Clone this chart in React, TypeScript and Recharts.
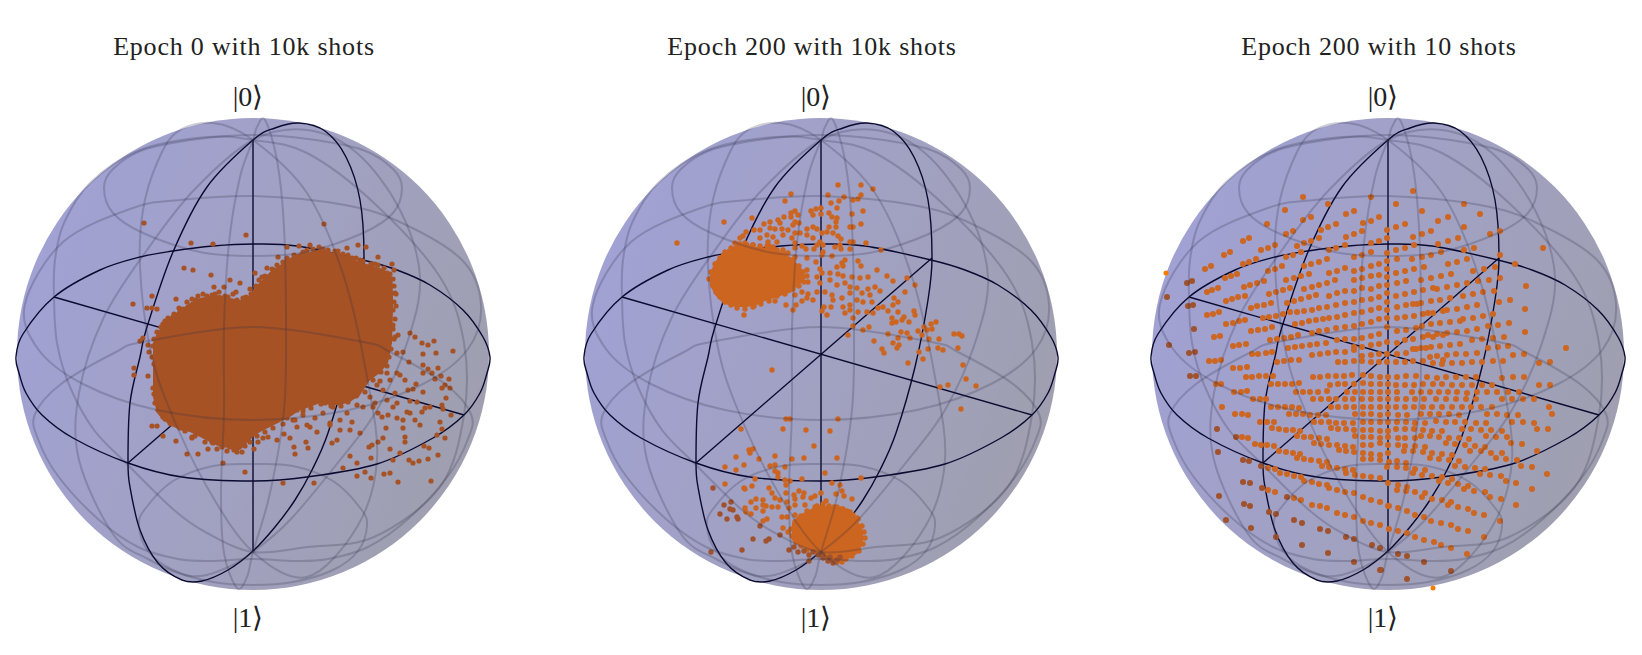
import { Area, ComposedChart, Label, Line, ReferenceDot, Scatter, XAxis, YAxis } from "recharts";

type Pair = [number, number];
type Band = [number, number, number];

// everything below: projected sphere coordinates, centre at 0,0, radius 236
const titles = ["Epoch 0 with 10k shots", "Epoch 200 with 10k shots", "Epoch 200 with 10 shots"];

const equator: Pair[] = [[0,110],[-40,108],[-80,103],[-113,97],[-153,84],[-199,57],[-230,20],[-237,-3],[-234,-19],[-227,-39],[-211,-61],[-180,-84],[-125,-109],[-71,-123],[0,-127],[54,-123],[124,-110],[180,-84],[211,-61],[227,-39],[234,-19],[237,-3],[230,17],[210,44],[177,69],[144,84],[110,94],[44,108],[0,110]];
const darkMeridian: Pair[] = [[0,214],[22,226],[46,231],[72,223],[93,197],[107,154],[111,96],[107,54],[94,-13],[75,-79],[59,-116],[42,-146],[22,-173],[0,-197],[-25,-216],[-51,-227],[-71,-226],[-95,-209],[-113,-176],[-123,-133],[-125,-109],[-123,-49],[-113,-3],[-106,27],[-80,102],[-46,167],[0,214]];
const axisX: Pair[] = [[-199,57],[211,-61]];
const axisY: Pair[] = [[-125,-109],[111,96]];
const axisZ: Pair[] = [[0,214],[0,-197]];

const ringA: Pair[] = [[0,98],[53,102],[110,121],[140,141],[149,166],[140,185],[110,204],[55,215],[0,219],[-55,215],[-110,204],[-140,185],[-149,166],[-140,141],[-110,121],[-53,102],[0,98]];
const ringB: Pair[] = [[0,158],[92,149],[149,131],[209,94],[228,50],[215,5],[170,-30],[96,-56],[0,-66],[-96,-56],[-170,-30],[-215,5],[-228,50],[-190,112],[-120,146],[-73,154],[0,158]];
const ringC: Pair[] = [[0,27],[110,12],[137,2],[192,-30],[218,-60],[215,-85],[195,-122],[155,-165],[115,-193],[75,-205],[42,-207],[0,-205],[-42,-207],[-75,-205],[-115,-193],[-155,-165],[-195,-122],[-215,-85],[-218,-60],[-192,-30],[-137,2],[-110,12],[0,27]];
const ringD: Pair[] = [[0,-110],[40,-112],[80,-127],[108,-155],[114,-172],[105,-197],[80,-216],[40,-228],[0,-231],[-40,-228],[-80,-216],[-105,-197],[-114,-172],[-108,-155],[-80,-127],[-40,-112],[0,-110]];
const meridianA: Pair[] = [[0,214],[-46,217],[-113,204],[-163,171],[-189,131],[-198,94],[-199,57],[-196,11],[-183,-33],[-159,-76],[-127,-109],[-79,-156],[-46,-179],[0,-198],[54,-193],[121,-183],[187,-133],[211,-61],[211,11],[187,77],[121,151],[54,201],[0,214]];
const meridianB: Pair[] = [[0,214],[-40,231],[-76,222],[-96,191],[-110,144],[-113,87],[-104,11],[-86,-49],[-46,-133],[0,-198],[54,-223],[104,-173],[124,-106],[114,-23],[91,77],[54,161],[0,214]];
const meridianC: Pair[] = [[0,214],[-13,177],[-24,111],[-29,27],[-29,-56],[-32,-139],[-29,-199],[-16,-234],[-6,-223],[0,-198],[17,-139],[31,-56],[33,27],[31,127],[24,194],[12,234],[4,227],[0,214]];
const meridianD: Pair[] = [[0,214],[-59,164],[-106,104],[-149,37],[-174,-39],[-174,-106],[-140,-180],[-105,-205],[-63,-222],[-29,-215],[0,-198],[37,-166],[87,-106],[124,-56],[154,11],[167,77],[147,144],[104,201],[54,224],[0,214]];
const greyWires = [ringA, ringB, ringC, ringD, meridianA, meridianB, meridianC, meridianD];

const blob0: Band[] = [[-100,-43,11],[-96,-59,21],[-90,-66,29],[-83,-71,37],[-73,-76,44],[-63,-78,51],[-53,-83,56],[-43,-88,58],[-33,-93,59],[-23,-94,56],[-13,-96,54],[-6,-89,56],[0,-83,64],[7,-78,72],[17,-73,82],[27,-68,89],[37,-63,96],[47,-56,101],[57,-53,102],[67,-49,105],[77,-51,102],[87,-51,101],[97,-48,96],[107,-41,92],[117,-26,89],[127,-19,86],[135,-9,82],[139,11,77],[140,44,61]];
const blob200a: Band[] = [[-111,69,81],[-106,59,92],[-99,52,101],[-93,49,105],[-84,47,109],[-74,47,109],[-64,49,107],[-54,54,106],[-46,56,106],[-38,59,101],[-29,62,96],[-23,69,89],[-18,72,84]];
const blob200b: Band[] = [[-29,-186,-169],[-24,-190,-163],[-16,-194,-158],[-8,-198,-154],[0,-203,-151],[6,-207,-152],[16,-211,-154],[22,-207,-156],[29,-204,-159],[36,-200,-165],[41,-192,-175],[42,-185,-181]];

const edge0: Pair[] = [[-100,8],[-101,-3],[-99,15],[-97,-30],[-99,-40],[-96,22],[-93,-55],[-92,27],[-88,33],[-88,-65],[-85,36],[-82,-70],[-79,40],[-74,46],[-70,45],[-68,-77],[-66,52],[-60,50],[-58,-82],[-57,54],[-50,60],[-48,-88],[-46,58],[-38,60],[-36,-95],[-28,58],[-26,-97],[-20,60],[-19,-96],[-10,56],[-11,-98],[-2,60],[-3,-88],[3,68],[4,-82],[6,74],[12,78],[12,-78],[19,85],[20,-74],[22,84],[30,92],[30,-70],[33,92],[41,99],[42,-66],[44,97],[54,104],[60,105],[66,107],[75,104],[82,103],[90,100],[95,99],[103,96],[110,93],[118,90],[122,90],[131,86],[137,80],[140,75],[141,68],[143,60],[141,52],[143,48],[142,35],[140,25],[141,15],[138,5],[136,-3],[134,-12],[128,-18],[120,-26],[112,-38],[103,-42],[95,-48],[88,-52],[78,-52],[68,-50],[58,-54],[50,-57]];
const points0: Pair[] = [[-109,131],[-62,111],[-40,110],[-7,119],[71,130],[34,107],[46,108],[57,109],[25,97],[85,103],[94,106],[105,109],[113,107],[125,97],[139,90],[141,84],[107,94],[99,96],[-69,86],[-60,84],[-42,79],[-23,74],[-13,71],[2,81],[-39,67],[-29,67],[-34,62],[-77,55],[-101,58],[-120,50],[-106,46],[-101,46],[-96,45],[-61,55],[-17,62],[-3,65],[-7,57],[-80,37],[-73,43],[-90,30],[-110,16],[-113,13],[-105,9],[-104,2],[-119,-14],[-119,-21],[-105,-22],[-99,-10],[-96,-16],[-97,-26],[-100,-34],[-98,-49],[-95,-56],[-101,-72],[-96,-72],[-90,-82],[-77,-87],[-66,-100],[-55,-100],[-45,-95],[-61,-84],[-30,-109],[-8,-118],[1,-95],[-16,-98],[-41,-88],[5,-88],[10,-84],[15,-83],[24,-86],[31,-80],[37,-84],[41,-93],[42,-100],[55,-94],[53,-88],[57,-73],[64,-78],[79,-89],[84,-86],[77,-71],[87,-76],[97,-102],[90,-114],[104,-109],[118,-104],[104,-122],[112,-118],[118,-124],[131,-120],[137,-119],[145,-128],[178,-127],[30,-129],[61,-129],[116,-93],[119,-91],[107,-79],[97,-76],[125,-88],[130,-84],[133,-74],[137,-95],[147,-99],[140,-106],[152,-83],[152,-88],[150,-74],[156,-106],[160,-109],[166,-107],[175,-105],[185,-101],[176,-94],[171,-92],[192,-84],[184,-81],[189,-75],[157,21],[162,17],[169,11],[175,9],[181,13],[200,3],[183,1],[170,0],[156,-8],[150,2],[144,1],[142,17],[145,19],[140,29],[147,-21],[152,-26],[144,-19],[170,-11],[175,-15],[185,-14],[170,-19],[179,-19],[188,-22],[182,-25],[196,-25],[192,-31],[189,-34],[197,-34],[170,-38],[163,-30],[155,-36],[160,-35],[193,-44],[189,-51],[198,-61],[190,-55],[177,-53],[172,-54],[169,-58],[164,-48],[157,-47],[154,-58],[157,-59],[144,-49],[140,-53],[135,-61],[144,-64],[150,-66],[162,-66],[167,-71],[187,-68],[129,-63],[125,-59],[44,-56],[50,-54],[60,-46],[72,-49],[80,-53],[85,-46],[90,-43],[104,-41],[107,-31],[124,-31],[127,-27],[134,-19],[137,-26],[117,-43],[120,-53],[110,-53],[104,-51],[94,-59],[99,-68],[87,-66],[77,-69],[70,-59],[62,-64],[50,-61],[40,-66],[34,-64],[44,-73],[54,-71],[122,-49],[134,-46],[142,-39],[130,-36],[9,77],[14,86],[24,89],[34,96],[50,102],[70,105],[125,89],[134,81],[137,71],[142,61],[140,44],[-55,58],[-41,59],[-25,57],[-16,54],[-65,47],[-40,-89],[-31,-93],[-23,-93],[-16,-94],[-8,-92],[-83,-69],[-73,-74],[-61,-83],[-90,-63]];

const edge200: Pair[] = [[-112,75],[-110,82],[-108,68],[-106,90],[-105,62],[-101,96],[-101,57],[-96,102],[-96,52],[-90,106],[-90,49],[-84,110],[-84,46],[-76,111],[-76,45],[-68,109],[-68,47],[-60,106],[-60,50],[-52,108],[-52,53],[-44,104],[-44,58],[-36,100],[-36,60],[-28,94],[-28,65],[-22,88],[-22,68],[-18,82],[-17,72],[-14,78],[-86,111],[-81,110],[-74,109],[-68,109],[-61,108],[-54,108],[-48,107],[-30,-175],[-29,-182],[-26,-168],[-25,-188],[-20,-162],[-20,-192],[-14,-157],[-14,-196],[-6,-153],[-4,-152],[2,-150],[8,-152],[13,-153],[20,-155],[26,-157],[32,-161],[37,-165],[41,-172],[43,-178],[44,-184],[42,-190],[38,-197],[31,-202],[25,-205],[21,-208]];
const points200: Pair[] = [[17,169],[40,169],[52,165],[7,159],[23,157],[18,153],[32,154],[37,155],[40,159],[10,151],[-30,160],[-36,153],[16,146],[42,143],[31,140],[-5,145],[0,146],[-10,143],[8,141],[0,140],[-8,139],[11,137],[16,136],[15,132],[-26,143],[-30,141],[-23,139],[-37,137],[-30,137],[-43,134],[-51,132],[-57,130],[-41,131],[-26,132],[-28,129],[-22,131],[-69,136],[-97,132],[-144,111],[40,130],[29,127],[32,127],[8,127],[15,127],[6,122],[12,121],[17,118],[20,115],[-8,127],[-4,125],[-14,125],[1,121],[-14,119],[-8,116],[-21,121],[-26,121],[-33,124],[-39,125],[-46,125],[-51,126],[-61,124],[-67,124],[-75,122],[-78,118],[-81,116],[-54,119],[-48,117],[-38,119],[-29,116],[-61,116],[-53,112],[-44,112],[-26,111],[-19,108],[-4,109],[2,109],[-1,112],[14,107],[19,109],[29,112],[32,112],[45,111],[60,104],[20,105],[29,105],[2,102],[1,99],[11,98],[-7,105],[-15,105],[-26,106],[-38,104],[-33,101],[-39,97],[-26,97],[-14,96],[-5,92],[24,94],[21,91],[16,87],[22,88],[37,93],[40,88],[56,84],[66,78],[72,73],[86,76],[94,69],[84,62],[39,76],[47,77],[31,77],[22,78],[17,80],[9,81],[-1,85],[1,81],[-14,84],[-4,77],[-18,77],[-13,72],[-1,71],[9,74],[16,69],[24,71],[29,67],[36,66],[54,67],[59,63],[47,65],[41,61],[49,59],[29,61],[21,56],[11,59],[4,62],[12,54],[-4,62],[-13,60],[-19,62],[-14,56],[-19,53],[-8,54],[-26,59],[-25,49],[-35,49],[-46,53],[-67,48],[-77,39],[-28,44],[22,47],[29,49],[36,54],[42,52],[51,52],[29,44],[32,36],[24,41],[37,42],[46,42],[52,41],[57,46],[62,47],[67,43],[73,56],[72,49],[77,52],[77,42],[71,36],[71,31],[75,32],[81,34],[83,37],[88,32],[93,43],[94,39],[10,47],[3,47],[1,43],[6,39],[32,28],[27,19],[42,24],[48,27],[53,13],[67,20],[80,22],[77,16],[86,21],[89,16],[72,11],[78,9],[76,6],[61,5],[63,1],[97,23],[103,27],[110,30],[115,32],[101,19],[106,24],[111,25],[108,15],[118,15],[133,20],[138,20],[141,18],[137,6],[122,4],[117,6],[98,2],[107,5],[102,-5],[87,-9],[142,-11],[145,-25],[155,-32],[127,-31],[119,-33],[140,-55],[-49,-16],
[-35,-65],[-31,-65],[17,-65],[-38,-75],[-15,-76],[9,-77],[-80,-75],[-7,-92],[-72,-96],[-68,-95],[-71,-99],[-85,-103],[-62,-105],[-46,-102],[-29,-105],[-17,-104],[16,-104],[-96,-113],[-85,-116],[-77,-111],[-51,-112],[-46,-111],[-36,-113],[-46,-117],[-43,-119],[-43,-123],[4,-119],[-66,-125],[-36,-126],[-31,-127],[-19,-125],[40,-124],[-96,-130],[11,-129],[19,-131],[-35,-131],[-69,-132],[-77,-134],[-76,-135],[-52,-134],[-49,-139],[-35,-139],[-22,-137],[-17,-139],[-27,-141],[-18,-143],[-10,-144],[-6,-142],[0,-139],[15,-140],[21,-137],[23,-142],[31,-145],[5,-147],[-46,-144],[-41,-146],[-34,-148],[-65,-145],[-58,-146],[-70,-148],[-26,-145],[-58,-151],[-55,-152],[-65,-154],[-76,-154],[-75,-158],[-70,-160],[-58,-157],[-49,-153],[-43,-153],[-32,-154],[-26,-151],[-16,-151],[16,-153],[22,-155],[29,-158],[36,-164],[-39,-163],[-34,-163],[-26,-161],[-54,-165],[-58,-167],[-38,-174],[-33,-178],[-27,-183]];
const shaded200: Pair[] = [[-108,-134],[-90,-148],[-97,-151],[-91,-155],[-88,-156],[-101,-160],[-94,-165],[-84,-163],[-83,-165],[-61,-172],[-68,-185],[-52,-185],[-55,-187],[-79,-196],[-110,-198],[-32,-196],[-27,-193],[-23,-198],[-17,-197],[-12,-201],[-12,-207],[-41,-181],[-8,-198],[-3,-201],[2,-204],[7,-207],[12,-209],[16,-206],[9,-203],[2,-201],[19,-203]];

const points10: Pair[] = [[-85,157],[-60,150],[-17,157],[-103,144],[-42,140],[-34,143],[-121,130],[-85,134],[-77,137],[-25,131],[-17,133],[-9,137],[-67,124],[-60,127],[-52,130],[-102,120],[-95,123],[-42,117],[-34,120],[-26,123],[-1,124],[-145,113],[-139,116],[-77,113],[-69,116],[-1,116],[-91,108],[-84,111],[-113,109],[-120,106],[-127,104],[-17,111],[-9,113],[-43,109],[-52,106],[-59,104],[-164,99],[-158,102],[-87,102],[-95,99],[-102,97],[-17,102],[-26,99],[-34,97],[-1,101],[-132,95],[-139,92],[-145,90],[-61,95],[-69,92],[-77,90],[-84,88],[-183,85],[-177,88],[-106,88],[-113,85],[-120,83],[-1,93],[-9,90],[-17,88],[-26,85],[-34,83],[-43,86],[-51,83],[-59,81],[-151,80],[-157,78],[-163,76],[-79,80],[-87,78],[-94,76],[-102,74],[-1,85],[-9,79],[-17,78],[-26,76],[-34,74],[-53,74],[-61,71],[-69,69],[-76,67],[-84,65],[-124,73],[-131,71],[-138,69],[-144,67],[-170,66],[-176,64],[-181,62],[-98,66],[-105,64],[-112,62],[-119,60],[-1,77],[-1,69],[-9,68],[-17,65],[-26,66],[-34,63],[-43,63],[-51,61],[-59,58],[-143,58],[-150,57],[-156,55],[-162,53],[-72,59],[-79,57],[-87,55],[-94,53],[-101,51],[-1,61],[-9,57],[-17,55],[-26,54],[-34,52],[-43,51],[-52,49],[-61,47],[-69,46],[-76,44],[-84,43],[-91,42],[-98,42],[-105,40],[-112,38],[-119,37],[-125,36],[-117,51],[-124,49],[-131,48],[-137,46],[-169,42],[-175,40],[-181,39],[-1,52],[-1,44],[-9,46],[-17,44],[-26,42],[-34,41],[-43,39],[-51,37],[-59,36],[-65,35],[-72,34],[-79,33],[-86,31],[-93,30],[-143,34],[-149,33],[-155,31],[-162,30],[-116,27],[-123,25],[-130,24],[-137,23],[-1,36],[-9,35],[-17,32],[-26,30],[-34,28],[-43,27],[-52,26],[-61,24],[-69,23],[-76,21],[-168,18],[-174,17],[-90,19],[-97,17],[-104,16],[-111,15],[-118,14],[-1,27],[-9,20],[-17,18],[-26,16],[-34,15],[-43,15],[-51,14],[-142,10],[-149,9],[-155,8],[-62,11],[-71,10],[-78,9],[-86,8],[-93,7],[-100,6],[-1,12],[-9,10],[-17,9],[-26,7],[-34,7],[-43,2],[-52,2],[-60,1],[-68,0],[-76,-1],[-116,2],[-122,1],[-130,0],[-136,0],[-1,0],[-9,0],[-17,-1],[-26,-2],[-34,4],[-167,-6],[-173,-7],[-179,-7],[-89,-6],[-97,-6],[-104,-7],[-111,-8],[-1,-8],[-9,-8],[-17,-8],[-26,-7],[-34,-7],[-43,-8],[-50,-8],[-141,-13],[-148,-14],[-155,-14],
[25,163],[8,150],[76,150],[34,143],[92,140],[60,137],[50,133],[17,130],[8,127],[76,127],[43,123],[34,120],[25,117],[102,120],[112,123],[70,116],[60,113],[50,110],[26,109],[17,106],[8,104],[155,106],[86,106],[76,104],[53,102],[43,99],[34,97],[24,95],[9,95],[112,99],[79,95],[69,92],[60,90],[127,90],[107,87],[96,85],[85,83],[63,80],[53,78],[43,76],[33,74],[36,87],[26,85],[17,83],[8,81],[112,76],[101,74],[90,73],[79,71],[69,69],[59,67],[49,65],[45,66],[35,64],[26,62],[18,73],[9,71],[17,60],[8,58],[138,68],[106,63],[95,62],[85,60],[75,58],[62,56],[52,54],[43,53],[33,51],[29,50],[25,50],[18,49],[9,47],[122,54],[111,52],[89,49],[79,47],[69,45],[59,44],[55,43],[45,41],[40,41],[35,40],[26,38],[17,37],[9,36],[137,45],[105,40],[95,38],[85,36],[75,35],[72,33],[62,32],[52,31],[43,30],[34,28],[28,26],[18,24],[9,23],[121,31],[110,29],[100,28],[89,25],[79,23],[69,22],[59,21],[55,19],[49,20],[45,17],[40,19],[35,17],[25,15],[17,14],[9,11],[137,22],[116,17],[105,16],[94,15],[84,14],[72,10],[62,9],[52,8],[43,7],[38,6],[33,6],[28,5],[25,5],[18,1],[9,0],[178,6],[110,7],[100,6],[89,1],[78,0],[68,0],[59,-1],[49,-2],[42,-3],[136,0],[125,-1],[120,8],[115,-7],[105,-7],[94,-8],[84,-8],[74,-9],[64,-9],[55,-6],[54,-10],[45,-9],[35,-7],[25,-7],[17,-8],[8,-8],[151,-9],[162,-8],
[-172,-30],[-167,-30],[-154,-38],[-147,-38],[-141,-37],[-142,-23],[-136,-23],[-129,-22],[-122,-22],[-115,-22],[-117,-30],[-110,-30],[-103,-30],[-96,-30],[-89,-29],[-75,-23],[-68,-23],[-60,-22],[-52,-22],[-44,-22],[-36,-21],[-25,-21],[-17,-22],[-8,-23],[0,-23],[-58,-31],[-50,-30],[-43,-30],[-34,-30],[-25,-29],[-17,-30],[-8,-30],[0,-30],[-92,-38],[-85,-38],[-78,-38],[-70,-38],[-61,-37],[-41,-38],[-33,-38],[-25,-38],[-17,-38],[-8,-38],[0,-38],[-135,-45],[-128,-45],[-122,-45],[-75,-45],[-67,-45],[-59,-45],[-52,-45],[-43,-45],[-35,-45],[-26,-45],[-17,-45],[-8,-45],[0,-45],[-166,-53],[-117,-53],[-110,-53],[-103,-53],[-96,-53],[-89,-54],[-57,-53],[-50,-53],[-42,-53],[-34,-53],[-25,-53],[-17,-53],[-8,-53],[0,-53],[-153,-60],[-146,-60],[-140,-61],[-99,-60],[-92,-60],[-85,-60],[-78,-61],[-70,-61],[-62,-61],[-33,-60],[-25,-60],[-17,-60],[-8,-61],[0,-60],[-128,-68],[-121,-68],[-114,-68],[-74,-68],[-67,-68],[-59,-68],[-52,-69],[-44,-69],[-35,-69],[-25,-68],[-17,-68],[-8,-68],[0,-68],[-116,-74],[-109,-75],[-102,-76],[-95,-76],[-88,-77],[-57,-74],[-50,-75],[-42,-75],[-34,-76],[-25,-76],[-17,-76],[-8,-77],[0,-77],[-91,-82],[-84,-83],[-77,-83],[-69,-84],[-61,-85],[-33,-82],[-25,-83],[-17,-83],[-8,-84],[0,-83],[-146,-83],[-140,-84],[-133,-90],[-127,-91],[-121,-91],[-114,-92],[-74,-89],[-67,-90],[-59,-91],[-51,-91],[-43,-92],[-35,-93],[-25,-91],[-17,-91],[-8,-89],[0,-91],[-109,-97],[-102,-98],[-95,-99],[-88,-100],[-49,-96],[-42,-97],[-34,-98],[-25,-99],[-17,-100],[-8,-101],[0,-99],[-91,-104],[-84,-105],[-77,-106],[-69,-107],[-61,-108],[-25,-105],[-17,-105],[-8,-106],[-120,-114],[-113,-115],[-66,-112],[-59,-113],[-51,-114],[-43,-115],[-35,-116],[-108,-119],[-101,-120],[-94,-122],[-87,-123],[-42,-119],[-33,-121],[-25,-122],[-17,-123],[-8,-124],[0,-129],[-84,-127],[-76,-128],[-69,-130],[-61,-131],[-59,-134],[-51,-136],[-43,-138],[-34,-139],[-25,-143],[-17,-146],[-8,-148],[0,-152],[-120,-136],[-113,-138],[-94,-144],[-87,-146],[-76,-151],[-68,-152],[-61,-154],[-51,-159],[-43,-161],[-34,-163],[-25,-167],[-17,-169],[-8,-171],
[9,-23],[18,-22],[28,-22],[39,-23],[49,-24],[58,-23],[68,-23],[78,-23],[88,-23],[114,-24],[125,-23],[136,-23],[8,-31],[17,-31],[26,-31],[35,-30],[45,-30],[54,-30],[64,-31],[74,-31],[84,-31],[94,-31],[104,-31],[151,-31],[162,-31],[9,-38],[24,-38],[33,-38],[42,-38],[51,-38],[60,-38],[69,-38],[79,-39],[89,-38],[99,-38],[109,-38],[120,-38],[131,-38],[9,-45],[18,-45],[27,-45],[36,-45],[48,-45],[58,-45],[68,-45],[78,-45],[88,-45],[114,-45],[124,-45],[135,-45],[146,-45],[8,-53],[17,-53],[26,-53],[35,-53],[44,-53],[54,-53],[64,-53],[74,-53],[83,-53],[93,-53],[104,-53],[161,-53],[10,-61],[19,-61],[33,-60],[42,-60],[51,-60],[61,-60],[71,-61],[99,-60],[109,-60],[119,-61],[130,-61],[164,-60],[9,-68],[18,-68],[27,-69],[37,-69],[48,-67],[58,-68],[67,-68],[77,-68],[88,-69],[98,-69],[124,-68],[135,-68],[146,-69],[8,-75],[17,-75],[26,-75],[35,-76],[44,-77],[54,-77],[74,-75],[83,-75],[93,-76],[103,-76],[114,-77],[149,-75],[160,-75],[10,-84],[17,-84],[27,-84],[33,-82],[42,-82],[51,-83],[61,-84],[71,-84],[81,-85],[98,-82],[108,-83],[119,-83],[123,-89],[134,-90],[10,-91],[17,-92],[27,-92],[37,-93],[58,-89],[67,-90],[77,-91],[87,-92],[97,-93],[16,-97],[25,-97],[35,-98],[44,-99],[54,-100],[64,-101],[82,-97],[93,-97],[103,-99],[114,-99],[149,-97],[1,-108],[9,-107],[18,-109],[42,-104],[51,-105],[61,-106],[71,-107],[108,-104],[118,-105],[129,-106],[-1,-113],[9,-113],[18,-114],[27,-115],[37,-116],[67,-112],[77,-113],[87,-114],[97,-115],[133,-112],[144,-113],[25,-119],[34,-121],[44,-122],[54,-123],[64,-125],[92,-120],[102,-121],[113,-122],[159,-120],[10,-131],[19,-133],[51,-127],[60,-129],[70,-130],[80,-132],[118,-127],[128,-129],[9,-136],[18,-137],[27,-138],[37,-139],[76,-135],[86,-137],[97,-138],[144,-135],[34,-143],[44,-145],[54,-146],[63,-148],[102,-143],[113,-145],[1,-152],[10,-154],[19,-157],[60,-151],[70,-153],[80,-155],[128,-151],[27,-161],[36,-163],[86,-159],[96,-161],[1,-175],[10,-177],[43,-167],[53,-169],[63,-171],[112,-167],[19,-179],[27,-183],[36,-186],[70,-175],[80,-177],[46,-188],[53,-191],[63,-194],[96,-183],[79,-200]];
const shaded10: Pair[] = [[-201,71],[-196,73],[-221,57],[-200,48],[-195,49],[-194,25],[-219,9],[-199,1],[-193,2],[-198,-22],[-192,-22],[-152,-83],[-171,-75],[-170,-98],[-145,-106],[-139,-107],[-127,-112],[-145,-128],[-138,-129],[-126,-134],[-101,-143],[-169,-142],[-144,-150],[-138,-152],[-119,-158],[-112,-160],[-162,-166],[-94,-166],[-86,-169],[-137,-174],[-68,-175],[-60,-177],[-112,-183],[-42,-183],[-34,-185],[-86,-191],[-16,-191],[-8,-194],[-60,-199],[-34,-208],[-8,-216],[10,-200],[19,-202],[36,-208],[63,-217],[19,-225],[-7,-216]];
const outside10: Pair[] = [[-222,81],[45,-234]];

const panelX = [253, 821, 1388];
const blobs: Band[][][] = [[blob0], [blob200a, blob200b], []];
const dotSets: Pair[][] = [[...points0, ...edge0], [...points200, ...edge200], points10];
const shadedSets: Pair[][] = [[], shaded200, shaded10];
const outsideSets: Pair[][] = [[], [], outside10];
const dotColors = ["#a65225", "#cc6520", "#cd6620"];
const dotRadius = [2.6, 2.7, 3];

const xy = (pts: Pair[]) => pts.map(([x, y]) => ({ x, y }));
const band = (rows: Band[]) => rows.map(([x, lo, hi]) => ({ x, band: [lo, hi] }));
const dot = (r: number, fill: string) => (p: any) => <circle cx={p.cx} cy={p.cy} r={r} fill={fill} />;
const font = "'Liberation Serif', serif";

// closed Catmull-Rom for the wire rings, so they stay on the sphere and have no seam
const closedCurve = (ctx: any) => {
  let pts: number[][] = [];
  return {
    areaStart() {},
    areaEnd() {},
    lineStart() {
      pts = [];
    },
    point(x: number, y: number) {
      pts.push([+x, +y]);
    },
    lineEnd() {
      const first = pts[0];
      const last = pts[pts.length - 1];
      if (first[0] === last[0] && first[1] === last[1]) pts.pop();
      const n = pts.length;
      ctx.moveTo(pts[0][0], pts[0][1]);
      for (let i = 0; i < n; i++) {
        const p0 = pts[(i - 1 + n) % n];
        const p1 = pts[i];
        const p2 = pts[(i + 1) % n];
        const p3 = pts[(i + 2) % n];
        ctx.bezierCurveTo(p1[0] + (p2[0] - p0[0]) / 6, p1[1] + (p2[1] - p0[1]) / 6, p2[0] - (p3[0] - p1[0]) / 6, p2[1] - (p3[1] - p1[1]) / 6, p2[0], p2[1]);
      }
    },
  };
};

function Bloch({ index }: { index: number }) {
  const color = dotColors[index];
  return (
    <div style={{ position: "absolute", left: panelX[index] - 260, top: 0 }}>
      <ComposedChart width={520} height={655} margin={{ top: 0, right: 0, bottom: 0, left: 0 }}>
        <defs>
          <linearGradient id={`sphere${index}`} x1="0" y1="0.2" x2="1" y2="0.6">
            <stop offset="0" stopColor="#a1a1d6" />
            <stop offset="0.5" stopColor="#a1a1c4" />
            <stop offset="1" stopColor="#9f9fb0" />
          </linearGradient>
        </defs>
        <XAxis type="number" dataKey="x" domain={[-260, 260]} hide />
        <YAxis type="number" dataKey="y" domain={[-301, 354]} hide />
        <Scatter data={[{ x: 0, y: 0 }]} isAnimationActive={false} zIndex={1}
          shape={(p: any) => <circle cx={p.cx} cy={p.cy} r={236} fill={`url(#sphere${index})`} />} />
        {[equator, darkMeridian, axisX, axisY, axisZ].map((w, i) => (
          <Line key={i} data={xy(w)} dataKey="y" type={i < 2 ? (closedCurve as any) : "linear"} stroke="#0a0a30" strokeWidth={1.4}
            dot={false} activeDot={false} isAnimationActive={false} zIndex={2} />
        ))}
        {blobs[index].map((b, i) => (
          <Area key={i} data={band(b)} dataKey="band" type="linear" fill={color} fillOpacity={1} stroke="none"
            dot={false} activeDot={false} isAnimationActive={false} zIndex={3} />
        ))}
        <Scatter data={xy(dotSets[index])} shape={dot(dotRadius[index], color)} isAnimationActive={false} zIndex={4} />
        <Scatter data={xy(shadedSets[index])} shape={dot(dotRadius[index], "#a0522d")} isAnimationActive={false} zIndex={4} />
        {greyWires.map((w, i) => (
          <Line key={i} data={xy(w)} dataKey="y" type={closedCurve as any} stroke="#2a2a44" strokeOpacity={0.23} strokeWidth={2}
            dot={false} activeDot={false} isAnimationActive={false} zIndex={5} />
        ))}
        <Scatter data={xy(outsideSets[index])} shape={dot(2.5, "#f57c00")} isAnimationActive={false} zIndex={6} />
        <ReferenceDot x={-9} y={308} r={0} fill="none" stroke="none" ifOverflow="visible" zIndex={7}>
          <Label value={titles[index]} position="center" fontSize={26} fontFamily={font} fill="#222" letterSpacing={0.8} />
        </ReferenceDot>
        <ReferenceDot x={-5} y={258} r={0} fill="none" stroke="none" ifOverflow="visible" zIndex={7}>
          <Label value="|0⟩" position="center" fontSize={28} fontFamily={font} fill="#222" />
        </ReferenceDot>
        <ReferenceDot x={-5} y={-263} r={0} fill="none" stroke="none" ifOverflow="visible" zIndex={7}>
          <Label value="|1⟩" position="center" fontSize={28} fontFamily={font} fill="#222" />
        </ReferenceDot>
      </ComposedChart>
    </div>
  );
}

export default function App() {
  return (
    <div style={{ position: "absolute", left: 0, top: 0, width: 1642, height: 655, background: "#fff", overflow: "hidden" }}>
      {titles.map((_, i) => (
        <Bloch key={i} index={i} />
      ))}
    </div>
  );
}
